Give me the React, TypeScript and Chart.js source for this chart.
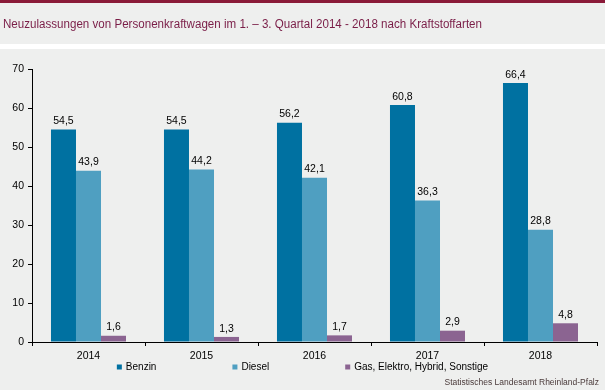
import React, { useEffect, useRef } from "react";
import { Chart, registerables } from "chart.js";

Chart.register(...registerables);

const title = "Neuzulassungen von Personenkraftwagen im 1. – 3. Quartal 2014 - 2018 nach Kraftstoffarten";
const source = "Statistisches Landesamt Rheinland-Pfalz";
const categories = ["2014", "2015", "2016", "2017", "2018"];
const seriesNames = ["Benzin", "Diesel", "Gas, Elektro, Hybrid, Sonstige"];
const benzin = [54.5, 54.5, 56.2, 60.8, 66.4];
const diesel = [43.9, 44.2, 42.1, 36.3, 28.8];
const sonstige = [1.6, 1.3, 1.7, 2.9, 4.8];
const seriesColors = ["#0071a1", "#4f9fc1", "#8b6491"];
const yMin = 0;
const yMax = 70;
const yStep = 10;

const FONT = "'Liberation Sans', Arial, sans-serif";

const backgroundPlugin = {
  id: "bgPanel",
  beforeDraw(chart: any) {
    const { ctx, width, height } = chart;
    ctx.save();
    ctx.fillStyle = "#eeefee";
    ctx.fillRect(0, 0, width, height);
    ctx.fillStyle = "#ffffff";
    ctx.fillRect(0, 44, width, 5);
    ctx.fillStyle = "#8a1a38";
    ctx.fillRect(0, 0, width, 3);
    ctx.fillStyle = "#7a1d47";
    ctx.font = `12.5px ${FONT}`;
    ctx.textAlign = "left";
    ctx.textBaseline = "alphabetic";
    ctx.fillText(title, 3, 28, 479);
    ctx.restore();
  },
};

const labelsPlugin = {
  id: "valueLabels",
  afterDatasetsDraw(chart: any) {
    const { ctx } = chart;
    ctx.save();
    ctx.fillStyle = "#000";
    ctx.font = `10.5px ${FONT}`;
    ctx.textAlign = "center";
    ctx.textBaseline = "bottom";
    chart.data.datasets.forEach((ds: any, i: number) => {
      const meta = chart.getDatasetMeta(i);
      meta.data.forEach((el: any, j: number) => {
        const v = ds.data[j] as number;
        ctx.fillText(v.toFixed(1).replace(".", ","), el.x, el.y - 3);
      });
    });
    ctx.restore();
  },
};

const legendPlugin = {
  id: "customLegend",
  afterDraw(chart: any) {
    const { ctx, width } = chart;
    ctx.save();
    ctx.font = `10px ${FONT}`;
    const box = 5;
    const gap = 4;
    const spacing = 76;
    const items = chart.data.datasets.map((ds: any) => ({
      text: ds.label as string,
      color: ds.backgroundColor as string,
      w: box + gap + ctx.measureText(ds.label).width,
    }));
    const total = items.reduce((s: number, it: any) => s + it.w, 0) + spacing * (items.length - 1);
    let x = (width - total) / 2;
    const yMid = 367;
    ctx.textBaseline = "middle";
    ctx.textAlign = "left";
    items.forEach((it: any) => {
      ctx.fillStyle = it.color;
      ctx.fillRect(x, yMid - 2.5, box, box);
      ctx.fillStyle = "#000";
      ctx.fillText(it.text, x + box + gap, yMid);
      x += it.w + spacing;
    });
    ctx.font = `8.5px ${FONT}`;
    ctx.fillStyle = "#4a3a3a";
    ctx.textAlign = "right";
    ctx.fillText(source, 599, 383);
    ctx.restore();
  },
};

export default function App() {
  const ref = useRef<HTMLCanvasElement | null>(null);

  useEffect(() => {
    document.body.style.margin = "0";
    const canvas = ref.current;
    if (!canvas) return;
    const datasetsValues = [benzin, diesel, sonstige];
    const chart = new Chart(canvas, {
      type: "bar",
      data: {
        labels: categories,
        datasets: datasetsValues.map((vals, i) => ({
          label: seriesNames[i],
          data: vals,
          backgroundColor: seriesColors[i],
          borderWidth: 0,
          categoryPercentage: 0.664,
          barPercentage: 1,
        })),
      },
      options: {
        responsive: false,
        animation: false,
        layout: { padding: { top: 69, left: 0, right: 8, bottom: 26 } },
        plugins: {
          legend: { display: false },
          title: { display: false },
          tooltip: { enabled: false },
        },
        scales: {
          x: {
            grid: {
              display: true,
              drawOnChartArea: false,
              drawTicks: true,
              tickLength: 4,
              color: "#000",
              offset: true,
            },
            border: { display: true, color: "#000" },
            ticks: { color: "#000", font: { family: FONT, size: 10.5 }, padding: 4 },
            afterFit: (s: any) => {
              s.height = 22;
            },
          },
          y: {
            min: yMin,
            max: yMax,
            ticks: { stepSize: yStep, color: "#000", font: { family: FONT, size: 10.5 }, padding: 4 },
            grid: { drawOnChartArea: false, drawTicks: true, tickLength: 4, color: "#000" },
            border: { display: true, color: "#000" },
            afterFit: (s: any) => {
              s.width = 32;
            },
          },
        },
      },
      plugins: [backgroundPlugin, labelsPlugin, legendPlugin],
    });
    return () => chart.destroy();
  }, []);

  return <canvas ref={ref} width={605} height={390} style={{ display: "block" }} />;
}
